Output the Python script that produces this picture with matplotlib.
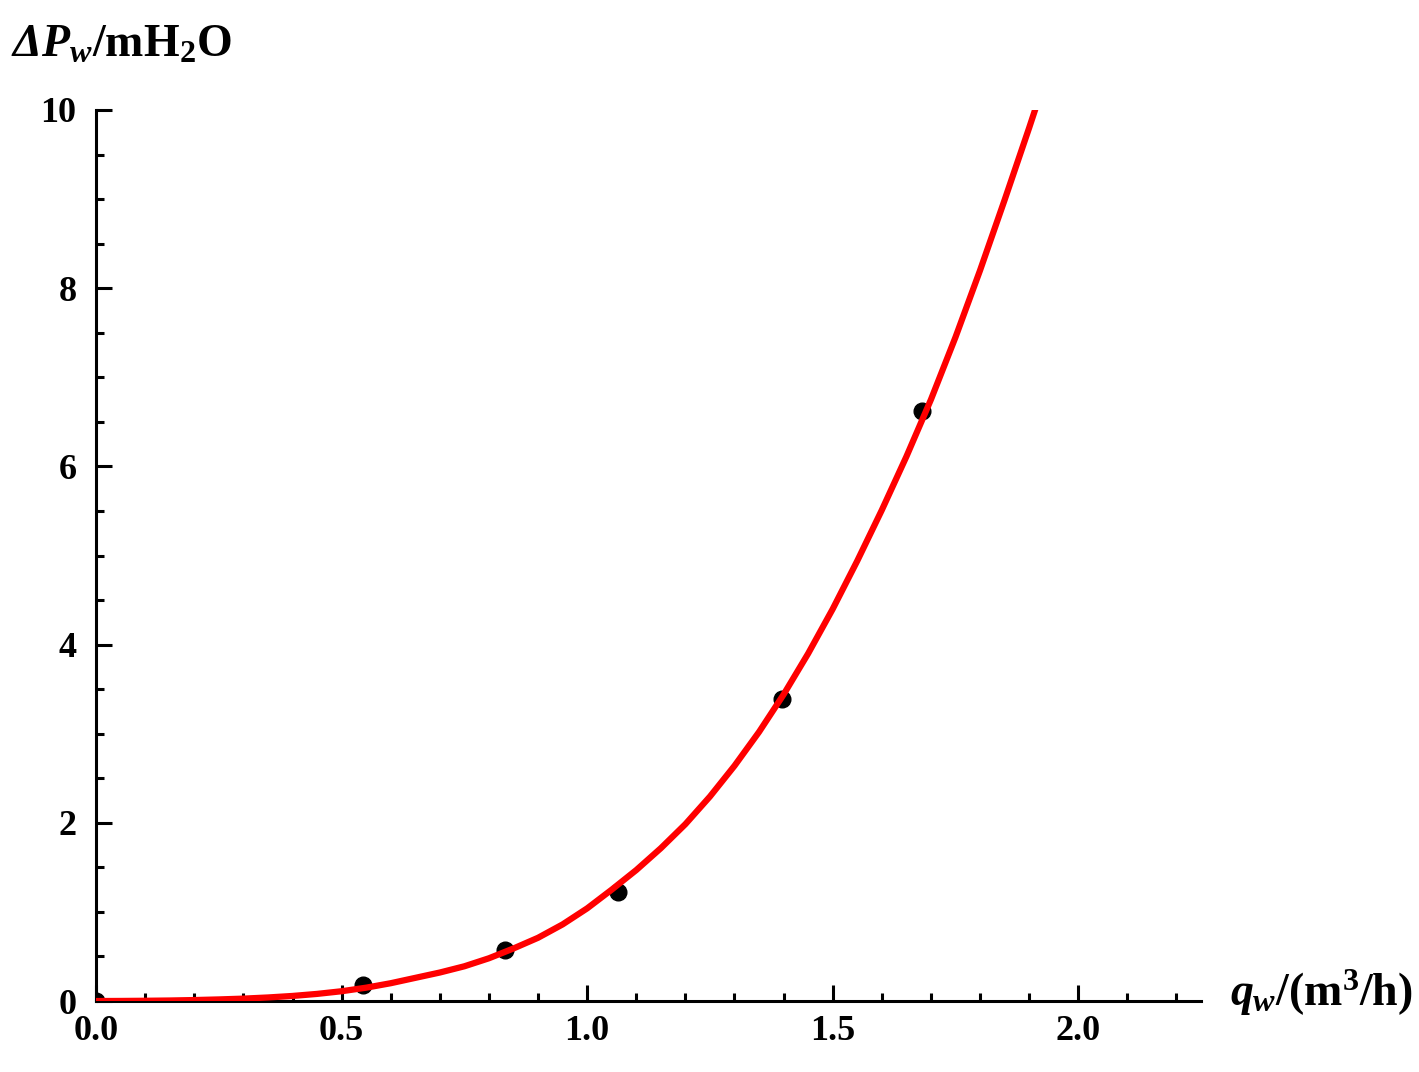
import numpy as np
import matplotlib
matplotlib.use('Agg')
import matplotlib.pyplot as plt
from matplotlib.ticker import MultipleLocator

plt.rcParams['font.family'] = 'Liberation Serif'
plt.rcParams['font.weight'] = 'bold'
plt.rcParams['mathtext.fontset'] = 'custom'
plt.rcParams['mathtext.rm'] = 'Liberation Serif:bold'
plt.rcParams['mathtext.it'] = 'Liberation Serif:italic:bold'
plt.rcParams['mathtext.sf'] = 'Liberation Serif:italic:bold'
plt.rcParams['mathtext.bf'] = 'Liberation Serif:bold'

# measured points
q_meas = [0.0, 0.544, 0.833, 1.063, 1.397, 1.682]
dp_meas = [0.0, 0.18, 0.57, 1.22, 3.39, 6.62]

# fitted curve
q_fit = [0.0, 0.05, 0.1, 0.15, 0.2, 0.25, 0.3, 0.35, 0.4, 0.45, 0.5, 0.55,
         0.6, 0.65, 0.7, 0.75, 0.8, 0.85, 0.9, 0.95, 1.0, 1.05, 1.1, 1.15,
         1.2, 1.25, 1.3, 1.35, 1.4, 1.45, 1.5, 1.55, 1.6, 1.65, 1.7, 1.75,
         1.8, 1.85, 1.9, 1.912]
dp_fit = [0.0, 0.001, 0.003, 0.006, 0.011, 0.018, 0.027, 0.04, 0.057, 0.08, 0.11, 0.15,
          0.2, 0.26, 0.32, 0.39, 0.48, 0.59, 0.71, 0.86, 1.04, 1.25, 1.47, 1.715,
          1.985, 2.295, 2.64, 3.02, 3.44, 3.9, 4.4, 4.94, 5.51, 6.11, 6.75, 7.45,
          8.2, 8.99, 9.8, 10.0]

fig = plt.figure(figsize=(14.19, 10.72), dpi=100)
ax = fig.add_axes([0.0677, 0.0662, 0.7787, 0.8312])

ax.plot(q_meas, dp_meas, 'o', color='black', ms=12, zorder=2)
ax.plot(q_fit, dp_fit, color='red', lw=4.5, zorder=3, solid_joinstyle='round')

ax.set_xlim(0, 2.25)
ax.set_ylim(0, 10)
ax.xaxis.set_major_locator(MultipleLocator(0.5))
ax.xaxis.set_minor_locator(MultipleLocator(0.1))
ax.yaxis.set_major_locator(MultipleLocator(2))
ax.yaxis.set_minor_locator(MultipleLocator(0.5))
ax.xaxis.set_major_formatter(plt.FormatStrFormatter('%.1f'))

for s in ['top', 'right']:
    ax.spines[s].set_visible(False)
for s in ['left', 'bottom']:
    ax.spines[s].set_linewidth(2.2)

ax.tick_params(which='major', direction='in', length=11.5, width=2.2, labelsize=26)
ax.tick_params(which='minor', direction='in', length=5.8, width=2.2)
ax.tick_params(axis='x', which='major', pad=10)
ax.tick_params(axis='y', which='major', pad=14)

fig.text(0.008, 1 - 57/1072, r'$\mathsf{ΔP}_{\mathit{w}}$/mH$_2$O',
         fontsize=33, va='baseline', ha='left')
fig.text(1230/1419, 1 - 1006/1072, r'$\mathit{q}_{\mathit{w}}$/(m$^3$/h)',
         fontsize=33, va='baseline', ha='left')

fig.savefig('out.png', dpi=100)
